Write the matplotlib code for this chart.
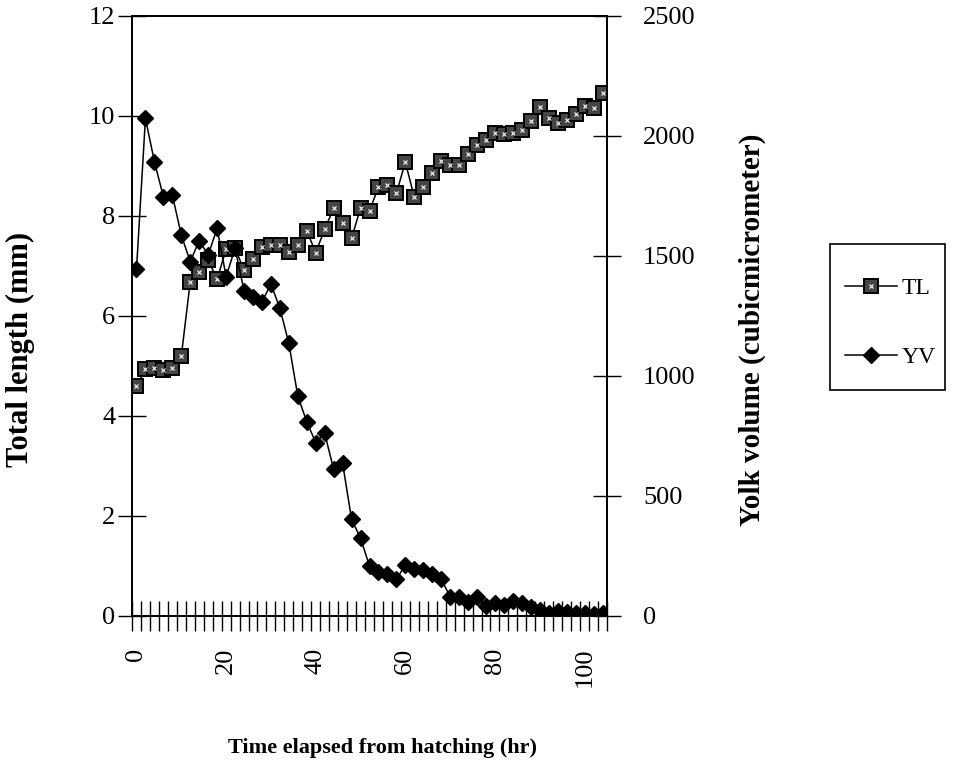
import matplotlib
matplotlib.use("Agg")
import matplotlib.pyplot as plt
from matplotlib.ticker import FixedLocator
from matplotlib.patches import Rectangle

plt.rcParams['font.family'] = ['Liberation Serif', 'DejaVu Serif']

hours = list(range(0, 105, 2))
total_length = [4.59, 4.93, 4.95, 4.91, 4.95, 5.19, 6.68, 6.88, 7.11, 6.73,
                7.33, 7.35, 6.91, 7.13, 7.38, 7.41, 7.41, 7.28, 7.41, 7.70,
                7.26, 7.73, 8.15, 7.86, 7.55, 8.15, 8.10, 8.57, 8.61, 8.45,
                9.07, 8.37, 8.57, 8.85, 9.09, 9.01, 9.01, 9.23, 9.41, 9.51,
                9.65, 9.63, 9.65, 9.71, 9.89, 10.17, 9.95, 9.85, 9.91, 10.03,
                10.19, 10.15, 10.45]
yolk_volume = [1443, 2072, 1892, 1746, 1753, 1586, 1475, 1563, 1503, 1614,
               1413, 1531, 1354, 1327, 1308, 1382, 1281, 1135, 915, 808,
               721, 760, 610, 635, 402, 323, 207, 183, 174, 152,
               211, 193, 190, 174, 152, 79, 79, 58, 79, 40,
               52, 45, 62, 52, 35, 24, 12, 21, 17, 12,
               10, 7, 10]
x_ticklabels = [0, 20, 40, 60, 80, 100]
left_ticks = [0, 2, 4, 6, 8, 10, 12]
right_ticks = [0, 500, 1000, 1500, 2000, 2500]

W, H = 960, 764
fig = plt.figure(figsize=(W / 100, H / 100), dpi=100)
L, R, T, B = 132, 607, 15.7, 615.7
ax = fig.add_axes([L / W, 1 - B / H, (R - L) / W, (B - T) / H])
ax2 = ax.twinx()

lw = 1.1
l1, = ax.plot(hours, total_length, color='black', lw=lw, marker='s', ms=9.5,
              mfc='#454545', mec='black', mew=1.4, zorder=3)
l1b, = ax.plot(hours, total_length, ls='none', marker='x', ms=3.5,
               mec='white', mew=0.8, zorder=4)
l2, = ax2.plot(hours, yolk_volume, color='black', lw=lw, marker='D', ms=8.5,
               mfc='black', mec='black', zorder=3)

ax.set_xlim(-1, 105)
ax.set_ylim(0, 12)
ax2.set_ylim(0, 2500)

ax.xaxis.set_major_locator(FixedLocator(x_ticklabels))
ax.set_xticklabels([str(v) for v in x_ticklabels], rotation=90)
ax.xaxis.set_minor_locator(FixedLocator([h + 1 for h in [-2] + hours]))
ax.tick_params(axis='x', which='major', length=0, pad=23, labelsize=19)
ax.tick_params(axis='x', which='minor', direction='inout', length=21, width=1.0)

ax.set_yticks(left_ticks)
ax.tick_params(axis='y', which='major', direction='inout', length=20, width=1.0,
               pad=2, labelsize=19)
ax2.set_yticks(right_ticks)
ax2.tick_params(axis='y', which='major', direction='inout', length=20, width=1.0,
                pad=16, labelsize=19)

for a in (ax, ax2):
    for s in a.spines.values():
        s.set_linewidth(1.3)
        s.set_color('black')

ax.set_xlabel('Time elapsed from hatching (hr)', fontsize=16, fontweight='bold',
              va='center')
ax.xaxis.set_label_coords(0.528, -0.22)
ax.set_ylabel('Total length (mm)', fontsize=22, fontweight='bold', va='center')
ax.yaxis.set_label_coords(-0.234, 0.443)
ax2.set_ylabel('Yolk volume (cubicmicrometer)', fontsize=21, fontweight='bold',
               va='center', rotation=90)
ax2.yaxis.set_label_coords(1.305, 0.476)

# legend frame (drawn as a figure patch so the padding can match the original)
fig.patches.append(Rectangle((830 / W, 1 - 390 / H), 115 / W, 146 / H,
                             transform=fig.transFigure, fill=False,
                             edgecolor='black', linewidth=1.2))
fig.legend([(l1, l1b), l2], ['TL', 'YV'], loc='center',
           bbox_to_anchor=(890 / W, 1 - 323 / H), borderaxespad=0,
           fontsize=17, frameon=False, handlelength=2.2, handletextpad=0.2,
           labelspacing=2.0, borderpad=0)

fig.savefig('out.png', dpi=100, facecolor='white')
